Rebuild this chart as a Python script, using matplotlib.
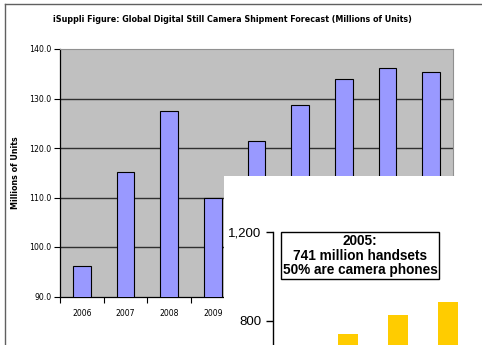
import matplotlib
matplotlib.use("Agg")
import matplotlib.pyplot as plt
from matplotlib.lines import Line2D
import numpy as np

# camera shipments, millions of units
years = ["2006", "2007", "2008", "2009", "2010", "2011", "2012", "2013", "2014"]
shipments = [96.2, 115.1, 127.4, 110.0, 121.4, 128.6, 134.0, 136.1, 135.3]
y_ticks = [90.0, 100.0, 110.0, 120.0, 130.0, 140.0]

# handset shipments, millions
handset_years = ["2005", "2006", "2007"]
handsets = [741, 824, 884]
handset_ticks = [800, 1200]

NARROW = dict(family="DejaVu Sans", stretch="condensed")
W, H = 482, 345

fig = plt.figure(figsize=(W / 100, H / 100), dpi=100)
fig.patch.set_facecolor("white")

# outer frame
fig.add_artist(Line2D([5 / W, 5 / W], [0, 1 - 4 / H], color="#606060", lw=1))
fig.add_artist(Line2D([5 / W, 1], [1 - 4 / H, 1 - 4 / H], color="#606060", lw=1))

fig.text(232 / W, 1 - 20 / H,
         "iSuppli Figure: Global Digital Still Camera Shipment Forecast (Millions of Units)",
         ha="center", va="center", fontsize=6.4, fontweight="bold", **NARROW)

ax = fig.add_axes([60 / W, 1 - 296.5 / H, 393 / W, 247.5 / H])
ax.set_facecolor("#C0C0C0")
x = np.arange(len(years))
ax.bar(x, shipments, width=0.4, color="#9999FF", edgecolor="black", linewidth=0.8, zorder=3)
ax.set_xlim(-0.5, len(years) - 0.5)
ax.set_ylim(90, 140)
ax.set_yticks(y_ticks)
ax.set_yticklabels([f"{v:.1f}" for v in y_ticks], fontsize=6.2, **NARROW)
ax.set_xticks(x)
ax.set_xticklabels(years, fontsize=6.2, **NARROW)
# labels from 2010 on sit under the handset panel
for lbl in ax.get_xticklabels()[4:]:
    lbl.set_visible(False)
ax.set_xticks(np.arange(len(years) + 1) - 0.5, minor=True)
ax.tick_params(axis="x", which="major", length=0, pad=9)
ax.tick_params(axis="x", which="minor", length=4, direction="out", width=0.8)
ax.tick_params(axis="y", length=4, width=0.8, pad=2)
for v in y_ticks[1:-1]:
    ax.axhline(v, color="#303030", lw=1.0, zorder=1)
for side in ("top", "right"):
    ax.spines[side].set_color("#909090")
for side in ("left", "bottom"):
    ax.spines[side].set_color("black")
    ax.spines[side].set_linewidth(0.9)
ax.set_ylabel("Millions of Units", fontsize=6.4, fontweight="bold", **NARROW)
ax.yaxis.set_label_coords(-(60 - 20) / 393, 0.5)

# white panel with handset chart on top
panel = fig.add_axes([224 / W, 0, 1 - 224 / W, (H - 176) / H])
panel.set_facecolor("white")
panel.set_xticks([])
panel.set_yticks([])
for s in panel.spines.values():
    s.set_visible(False)

px_per_unit = 50
left = 272.7
bottom_px = 231.7 + 89 * 2
inset = fig.add_axes([left / W, 1 - bottom_px / H, (W - left + 10) / W, (bottom_px - 231.7) / H])
inset.set_facecolor("none")
hx = np.arange(len(handsets))
inset.bar(hx, handsets, width=0.4, color="#FFCC00", edgecolor="none")
inset.set_xlim(-1.5, -1.5 + (W - left + 10) / px_per_unit)
inset.set_ylim(400, 1200)
inset.set_yticks(handset_ticks)
inset.set_yticklabels([f"{v:,}" for v in handset_ticks], fontsize=9.5, family="Liberation Sans")
inset.set_xticks([])
inset.tick_params(axis="y", length=5, width=1, pad=3)
for side in ("top", "right", "bottom"):
    inset.spines[side].set_visible(False)
inset.spines["left"].set_linewidth(1)

inset.text(360 / W, 1 - 255.5 / H,
           "2005:\n741 million handsets\n50% are camera phones",
           transform=fig.transFigure, ha="center", va="center",
           fontsize=9.8, fontweight="bold", family="Liberation Sans", linespacing=1.05,
           bbox=dict(boxstyle="square,pad=0.12", facecolor="white", edgecolor="black", lw=1))

fig.savefig("out.png", dpi=100)
